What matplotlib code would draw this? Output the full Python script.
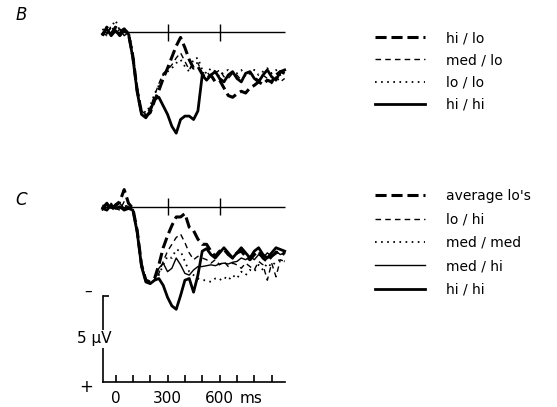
import matplotlib
matplotlib.use("Agg")
import matplotlib.pyplot as plt
from matplotlib.lines import Line2D

plt.rcParams['font.family'] = ['DejaVu Sans']
plt.rcParams['lines.scale_dashes'] = False

# sample times (ms) of the averaged waveforms
times = list(range(-75, 1000, 25))

# panel B amplitudes (uV, positive plotted downward)
b_hi_lo = [0.2, -0.3, 0.1, -0.3, 0.0, -0.2, 0.1,
           1.4, 3.4, 4.7, 4.9, 4.7, 4.0, 3.4, 2.7, 2.1, 1.45, 0.8, 0.3, 0.9,
           1.6, 2.1, 2.0, 2.45, 2.7, 2.5, 2.9, 2.8, 3.25, 3.7, 3.8, 3.6, 3.45,
           3.55, 3.25, 3.1, 2.9, 3.05, 2.8, 2.9, 2.5, 2.3, 2.4]
b_med_lo = [0.0, 0.2, -0.4, 0.1, -0.2, 0.2, 0.0,
            1.3, 3.3, 4.6, 4.8, 4.4, 3.7, 3.0, 2.4, 2.2, 1.9, 1.5, 1.2, 1.7,
            2.2, 1.8, 1.8, 2.4, 2.3, 2.6, 2.4, 2.2, 2.6, 2.7, 2.4, 2.5, 2.8,
            2.5, 2.3, 2.6, 2.8, 2.5, 2.7, 3.0, 2.6, 2.9, 2.7]
b_lo_lo = [-0.2, 0.1, -0.3, -0.7, -0.1, 0.1, -0.1,
           1.2, 3.2, 4.5, 4.7, 4.3, 3.6, 3.1, 2.5, 2.3, 2.1, 1.8, 1.6, 2.0,
           2.3, 1.55, 1.5, 2.2, 2.4, 2.1, 2.3, 2.6, 2.3, 2.2, 2.5, 2.4, 2.2,
           2.6, 2.4, 2.2, 2.5, 2.3, 2.1, 2.4, 2.2, 2.5, 2.3]
b_hi_hi = [0.1, -0.2, 0.2, -0.1, 0.2, -0.1, 0.1,
           1.5, 3.5, 4.8, 5.0, 4.6, 3.9, 3.8, 4.3, 4.8, 5.5, 5.9, 5.1, 4.9,
           4.9, 5.1, 4.6, 2.5, 2.8, 2.5, 2.3, 2.7, 2.9, 2.5, 2.3, 2.7, 2.9,
           2.4, 2.3, 2.7, 2.9, 2.5, 2.2, 2.6, 2.8, 2.3, 2.2]

# panel C amplitudes (uV)
c_avg_lo = [0.1, -0.2, 0.2, -0.1, -0.3, -1.0, -0.2,
            0.1, 1.4, 3.4, 4.3, 4.4, 4.2, 3.4, 2.4, 1.7, 1.1, 0.6, 0.6, 0.4,
            1.2, 1.4, 1.9, 2.2, 2.2, 2.6, 2.9, 2.6, 2.5, 2.8, 3.0, 2.7, 2.6,
            2.9, 3.1, 2.8, 2.6, 3.0, 3.2, 2.9, 2.7, 2.6, 2.8]
c_lo_hi = [0.0, 0.2, -0.2, 0.1, 0.2, -0.3, 0.1,
           0.2, 1.5, 3.5, 4.4, 4.5, 4.3, 3.9, 3.2, 2.6, 2.2, 1.8, 1.6, 2.1,
           2.7, 3.1, 2.9, 3.0, 3.1, 3.3, 3.1, 3.4, 3.2, 3.5, 3.3, 3.4, 3.6,
           3.3, 3.5, 3.7, 3.2, 3.4, 4.3, 3.3, 4.1, 3.1, 3.2]
c_med_med = [-0.1, 0.1, 0.2, -0.2, 0.1, 0.0, -0.1,
             0.1, 1.3, 3.3, 4.3, 4.4, 4.3, 4.0, 3.4, 2.9, 3.0, 2.5, 2.6, 3.2,
             3.8, 4.0, 4.2, 4.3, 4.3, 4.4, 4.2, 4.3, 4.1, 4.3, 4.0, 4.2, 3.8,
             4.0, 3.7, 3.8, 3.4, 3.7, 3.3, 3.5, 3.2, 3.1, 3.2]
c_med_hi = [0.2, -0.1, 0.1, 0.0, -0.2, 0.1, 0.0,
            0.2, 1.4, 3.4, 4.4, 4.5, 4.3, 3.6, 3.3, 3.8, 3.6, 3.0, 3.4, 3.9,
            4.0, 3.7, 3.5, 3.5, 3.45, 3.4, 3.45, 3.35, 3.3, 3.35, 3.25, 3.2, 3.0,
            3.1, 2.9, 3.1, 2.8, 3.0, 2.7, 2.9, 2.6, 2.8, 2.7]
c_hi_hi = [0.1, 0.2, -0.1, 0.1, 0.0, 0.2, 0.1,
           0.2, 1.5, 3.5, 4.4, 4.5, 4.3, 4.2, 4.6, 5.3, 5.8, 6.0, 5.2, 4.3,
           4.2, 5.0, 4.0, 2.6, 2.45, 2.8, 3.0, 2.7, 2.4, 2.7, 3.0, 2.7, 2.4,
           2.7, 3.0, 2.6, 2.4, 2.8, 3.0, 2.7, 2.4, 2.5, 2.6]

b_labels = ['hi / lo', 'med / lo', 'lo / lo', 'hi / hi']
c_labels = ["average lo's", 'lo / hi', 'med / med', 'med / hi', 'hi / hi']
time_ticks = [0, 100, 200, 300, 400, 500, 600, 700, 800, 900]
time_ticklabels = ['0', '', '', '300', '', '', '600', '', '', '']
unit_pos = 780
marker_times = [300, 600]

# line styles
LONG = dict(color='black', lw=2.2, linestyle=(0, (8, 3.5)))
SHORT = dict(color='black', lw=1.0, linestyle=(0, (4, 3)))
DOTS = dict(color='black', lw=1.3, linestyle=(0, (1.2, 3.2)))
THIN = dict(color='black', lw=1.0, linestyle='-')
THICK = dict(color='black', lw=2.0, linestyle='-')

W, H = 557, 407
PX_PER_MS = 0.1735
X_ZERO = 115.5
PX_PER_UV = 17.1


def add_px_axes(fig, left, top, right, bottom):
    return fig.add_axes([left / W, 1 - bottom / H, (right - left) / W, (bottom - top) / H])


def wave_axes(fig, left, top, right, bottom, base):
    ax = add_px_axes(fig, left, top, right, bottom)
    ax.set_xlim((left - X_ZERO) / PX_PER_MS, (right - X_ZERO) / PX_PER_MS)
    ax.set_ylim((bottom - base) / PX_PER_UV, (top - base) / PX_PER_UV)
    ax.axis('off')
    ax.hlines(0, times[0], times[-1], color='black', lw=1.0)
    ax.vlines(marker_times, -0.5, 0.5, color='black', lw=1.0)
    return ax


fig = plt.figure(figsize=(W / 100, H / 100), dpi=100)

# panel B
ax_b = wave_axes(fig, 97, 10, 292, 145, 32.3)
for vals, st in zip([b_lo_lo, b_med_lo, b_hi_lo, b_hi_hi], [DOTS, SHORT, LONG, THICK]):
    ax_b.plot(times, vals, **st)

# panel C
ax_c = wave_axes(fig, 97, 175, 292, 320, 206.7)
for vals, st in zip([c_med_med, c_lo_hi, c_med_hi, c_avg_lo, c_hi_hi],
                    [DOTS, SHORT, THIN, LONG, THICK]):
    ax_c.plot(times, vals, **st)

# calibration: 5 uV bar and time axis
ax_cal = add_px_axes(fig, 103, 296, 285, 381.7)
ax_cal.set_xlim((103 - X_ZERO) / PX_PER_MS, (285 - X_ZERO) / PX_PER_MS)
ax_cal.set_ylim(0, 5)
ax_cal.patch.set_visible(False)
for side in ['top', 'right']:
    ax_cal.spines[side].set_visible(False)
for side in ['left', 'bottom']:
    ax_cal.spines[side].set_linewidth(1.2)
ax_cal.set_xticks(time_ticks)
ax_cal.set_xticklabels(time_ticklabels)
ax_cal.set_xticks([unit_pos], ['ms'], minor=True)
ax_cal.tick_params(axis='x', which='major', direction='in', length=5, width=1.2,
                   pad=7, labelsize=11)
ax_cal.tick_params(axis='x', which='minor', length=0, pad=7, labelsize=11)
ax_cal.set_yticks([5])
ax_cal.set_yticklabels([''])
ax_cal.tick_params(axis='y', direction='in', length=4, width=1.2)
ax_cal.text(0.045, 0.5, '5 μV', transform=ax_cal.transAxes, ha='right', va='center',
            fontsize=11, bbox=dict(facecolor='white', edgecolor='none', pad=1),
            zorder=5, clip_on=False)
ax_cal.text(-0.08, 1.05, '–', transform=ax_cal.transAxes, ha='center', va='center', fontsize=11)
ax_cal.text(-0.09, -0.06, '+', transform=ax_cal.transAxes, ha='center', va='center', fontsize=12)

# panel letters
fig.text(21 / W, 1 - 15 / H, 'B', fontsize=12, style='italic', ha='center', va='center')
fig.text(21 / W, 1 - 200 / H, 'C', fontsize=12, style='italic', ha='center', va='center')

# legends
b_handles = [Line2D([], [], **st) for st in [LONG, SHORT, DOTS, THICK]]
fig.legend(b_handles, b_labels, loc='upper left', bbox_to_anchor=(375 / W, 1 - 31 / H),
           frameon=False, fontsize=10, handlelength=3.6, handletextpad=1.5,
           labelspacing=0.6, borderpad=0, borderaxespad=0)
c_handles = [Line2D([], [], **st) for st in [LONG, SHORT, DOTS, THIN, THICK]]
fig.legend(c_handles, c_labels, loc='upper left', bbox_to_anchor=(375 / W, 1 - 189 / H),
           frameon=False, fontsize=10, handlelength=3.6, handletextpad=1.5,
           labelspacing=0.68, borderpad=0, borderaxespad=0)

fig.savefig('out.png', dpi=100)
